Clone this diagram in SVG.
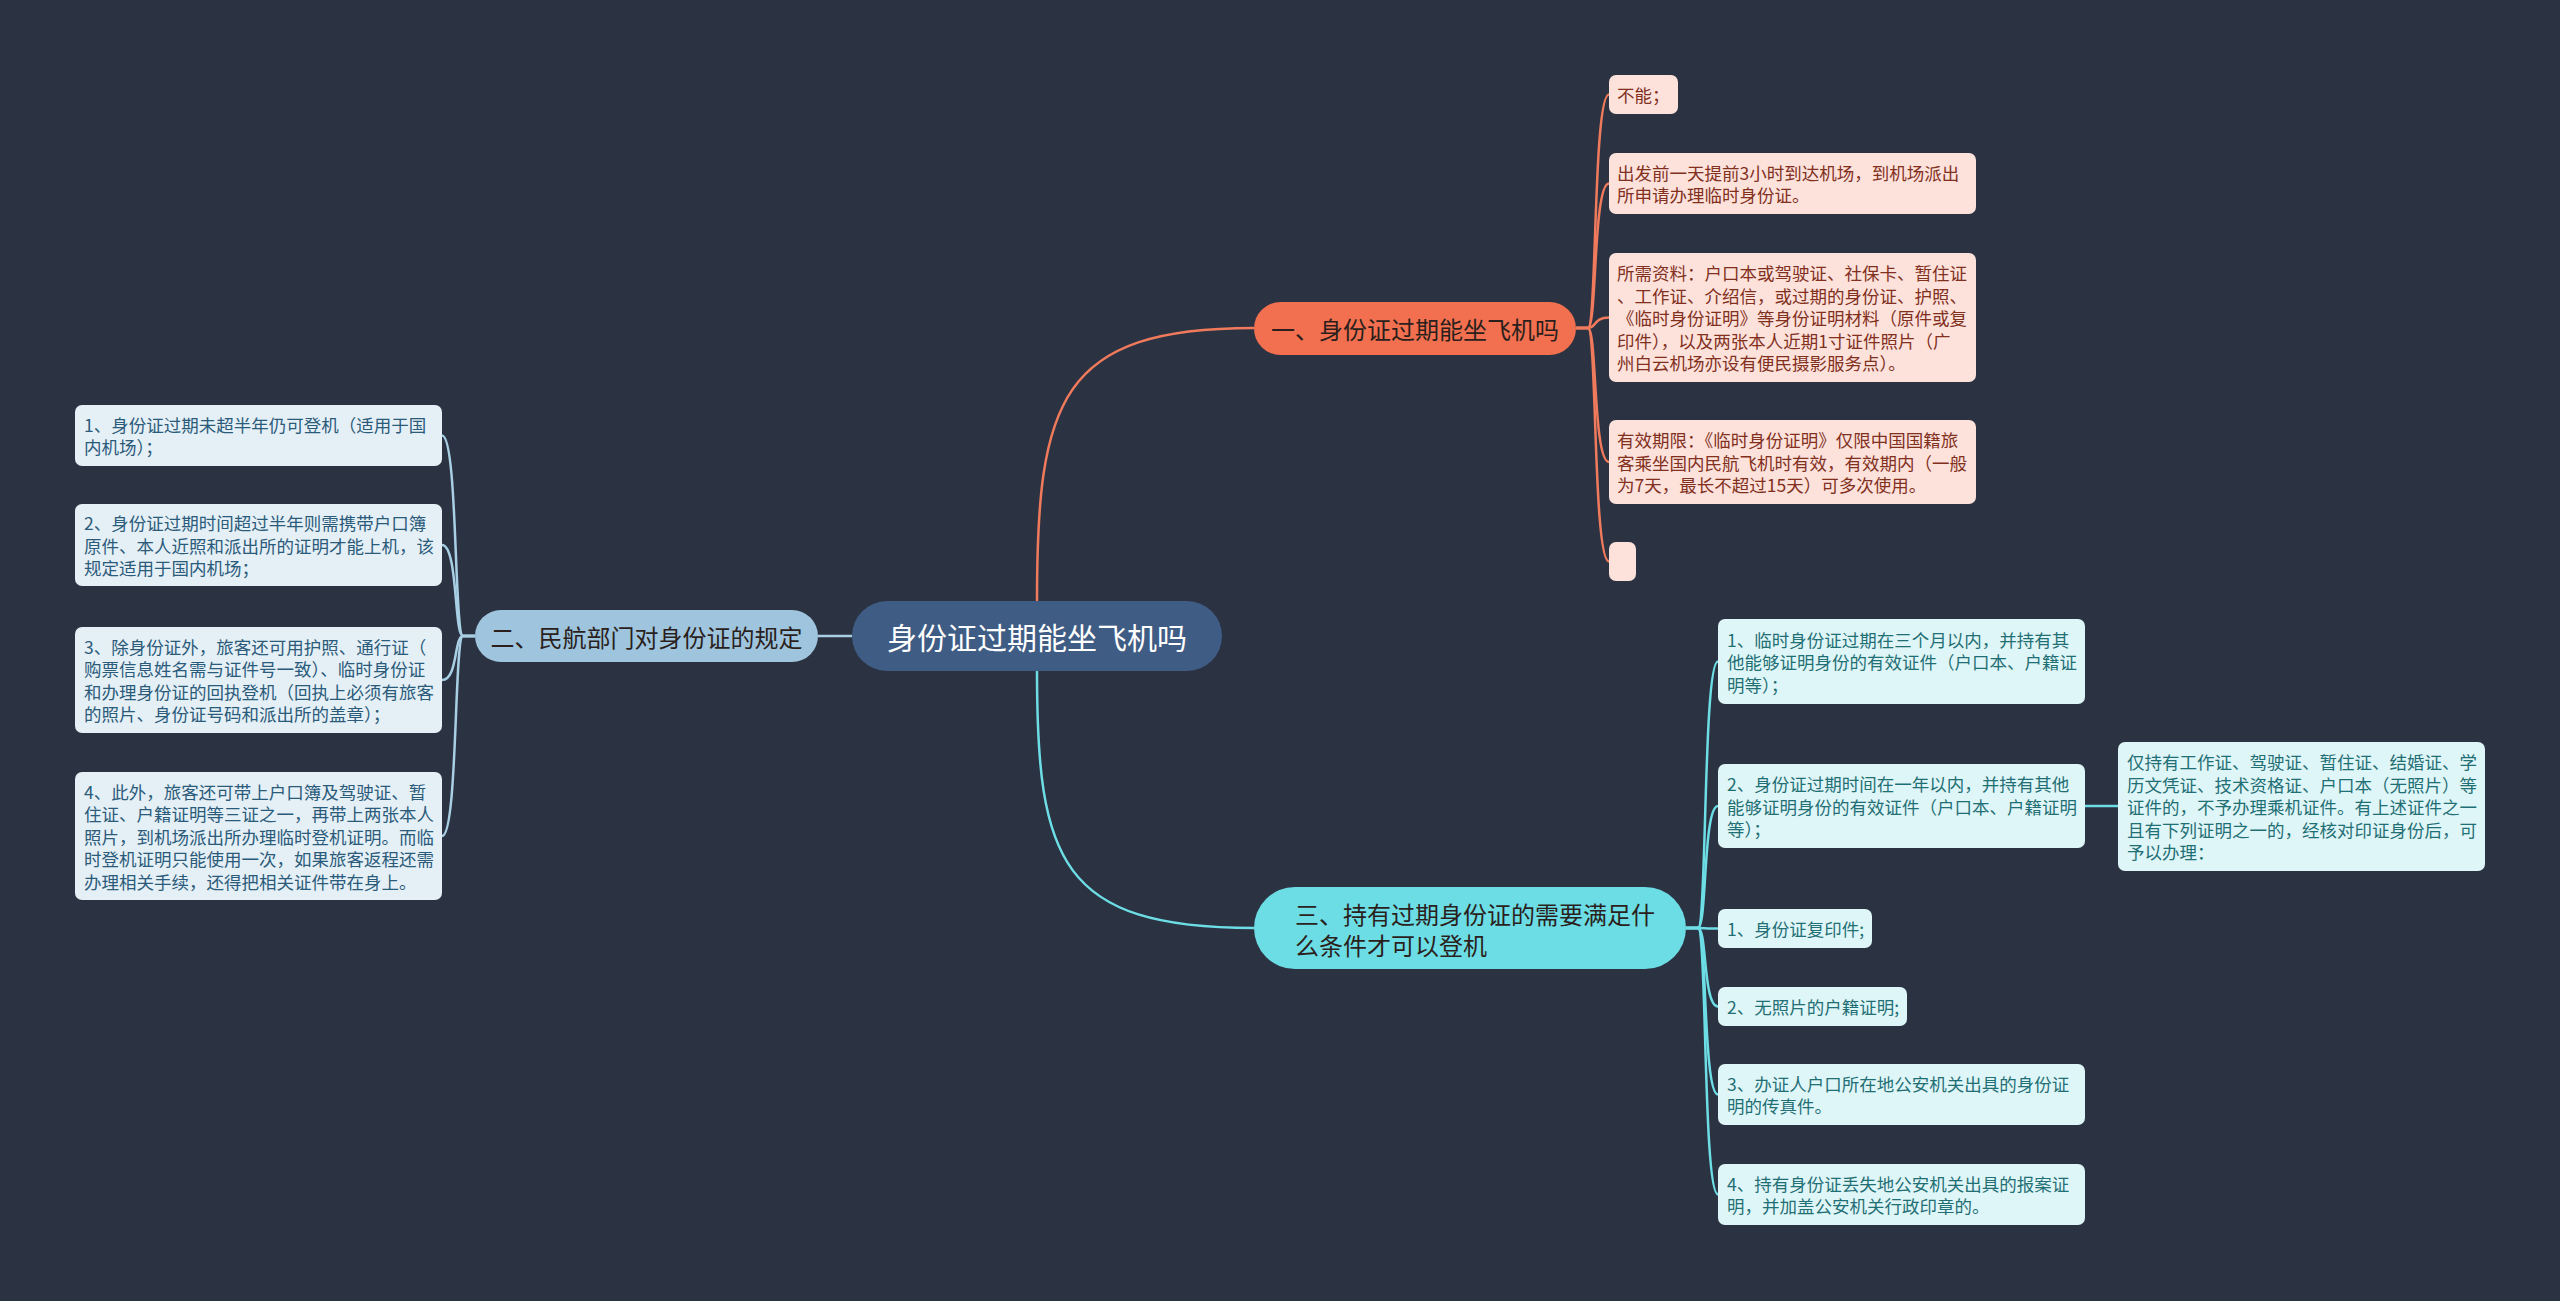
<svg xmlns="http://www.w3.org/2000/svg" width="2560" height="1301" viewBox="0 0 2560 1301">
<style>
text{font-family:"Noto Sans CJK SC","Noto Sans",sans-serif;dominant-baseline:central}
.ctr{fill:#3f5c84}
.b1{fill:#f2704f}
.b2{fill:#9fc4dd}
.b3{fill:#6cdde4}
.l1{fill:#fde2db}
.l2{fill:#e5eff6}
.l3{fill:#dff6f8}
.t1{fill:#82301e;font-size:17.5px}
.t2{fill:#2b5b7a;font-size:17.5px}
.t3{fill:#1f6f75;font-size:17.5px}
.bt{fill:#2a1f1c;font-size:24px}
.c1{stroke:#f07a5c;stroke-width:2.5;fill:none}
.c2{stroke:#a8cfe4;stroke-width:2.5;fill:none}
.c3{stroke:#6ddde6;stroke-width:2.5;fill:none}
</style>
<rect width="2560" height="1301" fill="#2b3242"/>
<g id="connectors">
<path class="c1" d="M1037 601 C1037 400 1060 328 1254 328"/>
<path class="c2" d="M852 636 H818"/>
<path class="c3" d="M1037 671 C1037 860 1060 928 1254 928"/>
<path class="c1" d="M1576 328 H1588 C1597 328 1593 94.5 1609 94.5"/>
<path class="c1" d="M1576 328 H1588 C1597 328 1593 183.5 1609 183.5"/>
<path class="c1" d="M1576 328 H1588 C1597 328 1593 317.5 1609 317.5"/>
<path class="c1" d="M1576 328 H1588 C1597 328 1593 462 1609 462"/>
<path class="c1" d="M1576 328 H1588 C1597 328 1593 561.5 1609 561.5"/>
<path class="c2" d="M475 636 H463 C454 636 458 435.5 442 435.5"/>
<path class="c2" d="M475 636 H463 C454 636 458 545 442 545"/>
<path class="c2" d="M475 636 H463 C454 636 458 680 442 680"/>
<path class="c2" d="M475 636 H463 C454 636 458 836 442 836"/>
<path class="c3" d="M1686 928 H1698 C1707 928 1703 661.5 1718 661.5"/>
<path class="c3" d="M1686 928 H1698 C1707 928 1703 806 1718 806"/>
<path class="c3" d="M1686 928 H1698 C1707 928 1703 928.5 1718 928.5"/>
<path class="c3" d="M1686 928 H1698 C1707 928 1703 1006.5 1718 1006.5"/>
<path class="c3" d="M1686 928 H1698 C1707 928 1703 1094.5 1718 1094.5"/>
<path class="c3" d="M1686 928 H1698 C1707 928 1703 1194.5 1718 1194.5"/>
<path class="c3" d="M2085 806 H2118"/>
</g>
<g id="center">
<rect class="ctr" x="852" y="601" width="370" height="70" rx="35"/>
<text x="1037" y="636" text-anchor="middle" fill="#ffffff" font-size="30">身份证过期能坐飞机吗</text>
</g>
<g id="branch1">
<rect class="b1" x="1254" y="302" width="322" height="53" rx="26.5"/>
<text class="bt" x="1415" y="328.5" text-anchor="middle">一、身份证过期能坐飞机吗</text>
</g>
<g id="branch2">
<rect class="b2" x="475" y="610" width="343" height="52" rx="26"/>
<text class="bt" x="646.5" y="636" text-anchor="middle">二、民航部门对身份证的规定</text>
</g>
<g id="branch3">
<rect class="b3" x="1254" y="887" width="432" height="82" rx="41"/>
<text class="bt" x="1295" y="913">三、持有过期身份证的需要满足什</text>
<text class="bt" x="1295" y="944">么条件才可以登机</text>
</g>
<g id="b1-n1">
<rect class="l1" x="1609" y="75" width="69" height="39" rx="7"/>
<text class="t1" x="1617" y="94.5">不能；</text>
</g>
<g id="b1-n2">
<rect class="l1" x="1609" y="153" width="367" height="61" rx="7"/>
<text class="t1" x="1617" y="172.25">出发前一天提前3小时到达机场，到机场派出</text>
<text class="t1" x="1617" y="194.75">所申请办理临时身份证。</text>
</g>
<g id="b1-n3">
<rect class="l1" x="1609" y="253" width="367" height="129" rx="7"/>
<text class="t1" x="1617" y="272.5">所需资料：户口本或驾驶证、社保卡、暂住证</text>
<text class="t1" x="1617" y="295">、工作证、介绍信，或过期的身份证、护照、</text>
<text class="t1" x="1617" y="317.5">《临时身份证明》等身份证明材料（原件或复</text>
<text class="t1" x="1617" y="340">印件），以及两张本人近期1寸证件照片（广</text>
<text class="t1" x="1617" y="362.5">州白云机场亦设有便民摄影服务点）。</text>
</g>
<g id="b1-n4">
<rect class="l1" x="1609" y="420" width="367" height="84" rx="7"/>
<text class="t1" x="1617" y="439.5">有效期限：《临时身份证明》仅限中国国籍旅</text>
<text class="t1" x="1617" y="462">客乘坐国内民航飞机时有效，有效期内（一般</text>
<text class="t1" x="1617" y="484.5">为7天，最长不超过15天）可多次使用。</text>
</g>
<g id="b1-n5">
<rect class="l1" x="1609" y="542" width="27" height="39" rx="7"/>
</g>
<g id="b2-n1">
<rect class="l2" x="75" y="405" width="367" height="61" rx="7"/>
<text class="t2" x="84" y="424.25">1、身份证过期未超半年仍可登机（适用于国</text>
<text class="t2" x="84" y="446.75">内机场）；</text>
</g>
<g id="b2-n2">
<rect class="l2" x="75" y="504" width="367" height="82" rx="7"/>
<text class="t2" x="84" y="522.5">2、身份证过期时间超过半年则需携带户口簿</text>
<text class="t2" x="84" y="545">原件、本人近照和派出所的证明才能上机，该</text>
<text class="t2" x="84" y="567.5">规定适用于国内机场；</text>
</g>
<g id="b2-n3">
<rect class="l2" x="75" y="627" width="367" height="106" rx="7"/>
<text class="t2" x="84" y="646.25">3、除身份证外，旅客还可用护照、通行证（</text>
<text class="t2" x="84" y="668.75">购票信息姓名需与证件号一致）、临时身份证</text>
<text class="t2" x="84" y="691.25">和办理身份证的回执登机（回执上必须有旅客</text>
<text class="t2" x="84" y="713.75">的照片、身份证号码和派出所的盖章）；</text>
</g>
<g id="b2-n4">
<rect class="l2" x="75" y="772" width="367" height="128" rx="7"/>
<text class="t2" x="84" y="791">4、此外，旅客还可带上户口簿及驾驶证、暂</text>
<text class="t2" x="84" y="813.5">住证、户籍证明等三证之一，再带上两张本人</text>
<text class="t2" x="84" y="836">照片，到机场派出所办理临时登机证明。而临</text>
<text class="t2" x="84" y="858.5">时登机证明只能使用一次，如果旅客返程还需</text>
<text class="t2" x="84" y="881">办理相关手续，还得把相关证件带在身上。</text>
</g>
<g id="b3-n1">
<rect class="l3" x="1718" y="619" width="367" height="85" rx="7"/>
<text class="t3" x="1727" y="639">1、临时身份证过期在三个月以内，并持有其</text>
<text class="t3" x="1727" y="661.5">他能够证明身份的有效证件（户口本、户籍证</text>
<text class="t3" x="1727" y="684">明等）；</text>
</g>
<g id="b3-n2">
<rect class="l3" x="1718" y="764" width="367" height="84" rx="7"/>
<text class="t3" x="1727" y="783.5">2、身份证过期时间在一年以内，并持有其他</text>
<text class="t3" x="1727" y="806">能够证明身份的有效证件（户口本、户籍证明</text>
<text class="t3" x="1727" y="828.5">等）；</text>
</g>
<g id="b3-n2-1">
<rect class="l3" x="2118" y="742" width="367" height="129" rx="7"/>
<text class="t3" x="2127" y="761.5">仅持有工作证、驾驶证、暂住证、结婚证、学</text>
<text class="t3" x="2127" y="784">历文凭证、技术资格证、户口本（无照片）等</text>
<text class="t3" x="2127" y="806.5">证件的，不予办理乘机证件。有上述证件之一</text>
<text class="t3" x="2127" y="829">且有下列证明之一的，经核对印证身份后，可</text>
<text class="t3" x="2127" y="851.5">予以办理：</text>
</g>
<g id="b3-n3">
<rect class="l3" x="1718" y="909" width="154" height="39" rx="7"/>
<text class="t3" x="1727" y="928.5">1、身份证复印件;</text>
</g>
<g id="b3-n4">
<rect class="l3" x="1718" y="987" width="189" height="39" rx="7"/>
<text class="t3" x="1727" y="1006.5">2、无照片的户籍证明;</text>
</g>
<g id="b3-n5">
<rect class="l3" x="1718" y="1064" width="367" height="61" rx="7"/>
<text class="t3" x="1727" y="1083.25">3、办证人户口所在地公安机关出具的身份证</text>
<text class="t3" x="1727" y="1105.75">明的传真件。</text>
</g>
<g id="b3-n6">
<rect class="l3" x="1718" y="1164" width="367" height="61" rx="7"/>
<text class="t3" x="1727" y="1183.25">4、持有身份证丢失地公安机关出具的报案证</text>
<text class="t3" x="1727" y="1205.75">明，并加盖公安机关行政印章的。</text>
</g>
</svg>
